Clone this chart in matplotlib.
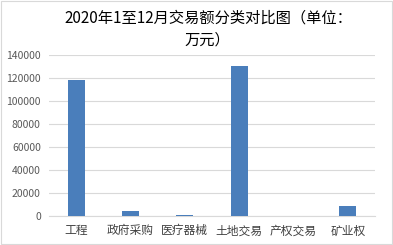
import matplotlib
matplotlib.use("Agg")
import matplotlib.pyplot as plt
from matplotlib.patches import Rectangle

plt.rcParams["font.family"] = ["Noto Sans CJK SC", "DejaVu Sans"]

# 2020年1至12月交易额 (万元)
categories = ["工程", "政府采购", "医疗器械", "土地交易", "产权交易", "矿业权"]
values = [118500, 4400, 1200, 130400, 0, 9000]
yticks = [0, 20000, 40000, 60000, 80000, 100000, 120000, 140000]

fig = plt.figure(figsize=(3.93, 2.45), dpi=100)
ax = fig.add_axes([0.125, 0.118, 0.829, 0.658])

x = range(len(categories))
ax.bar(x, values, width=0.31, color="#4a7ebb", zorder=3)

ax.set_xlim(-0.5, len(categories) - 0.5)
ax.set_ylim(0, 140000)
ax.set_yticks(yticks)
ax.set_yticklabels([str(v) for v in yticks], fontsize=7.5, color="#595959")
ax.set_xticks(list(x))
ax.set_xticklabels(categories, fontsize=8.5, color="#404040")
ax.tick_params(axis="both", length=0)
ax.tick_params(axis="x", pad=6)
ax.tick_params(axis="y", pad=6)

ax.grid(axis="y", color="#d9d9d9", linewidth=0.8, zorder=0)
for s in ["top", "right", "left"]:
    ax.spines[s].set_visible(False)
ax.spines["bottom"].set_color("#d9d9d9")
ax.spines["bottom"].set_linewidth(0.8)

fig.text(0.53, 0.928, "2020年1至12月交易额分类对比图（单位：", ha="center", va="center",
         fontsize=11, color="#000000")
fig.text(0.527, 0.838, "万元）", ha="center", va="center", fontsize=11, color="#000000")

fig.patches.append(Rectangle((0.002, 0.004), 0.995, 0.99, transform=fig.transFigure,
                             fill=False, edgecolor="#d9d9d9", linewidth=0.8))

fig.savefig("out.png", dpi=100)
